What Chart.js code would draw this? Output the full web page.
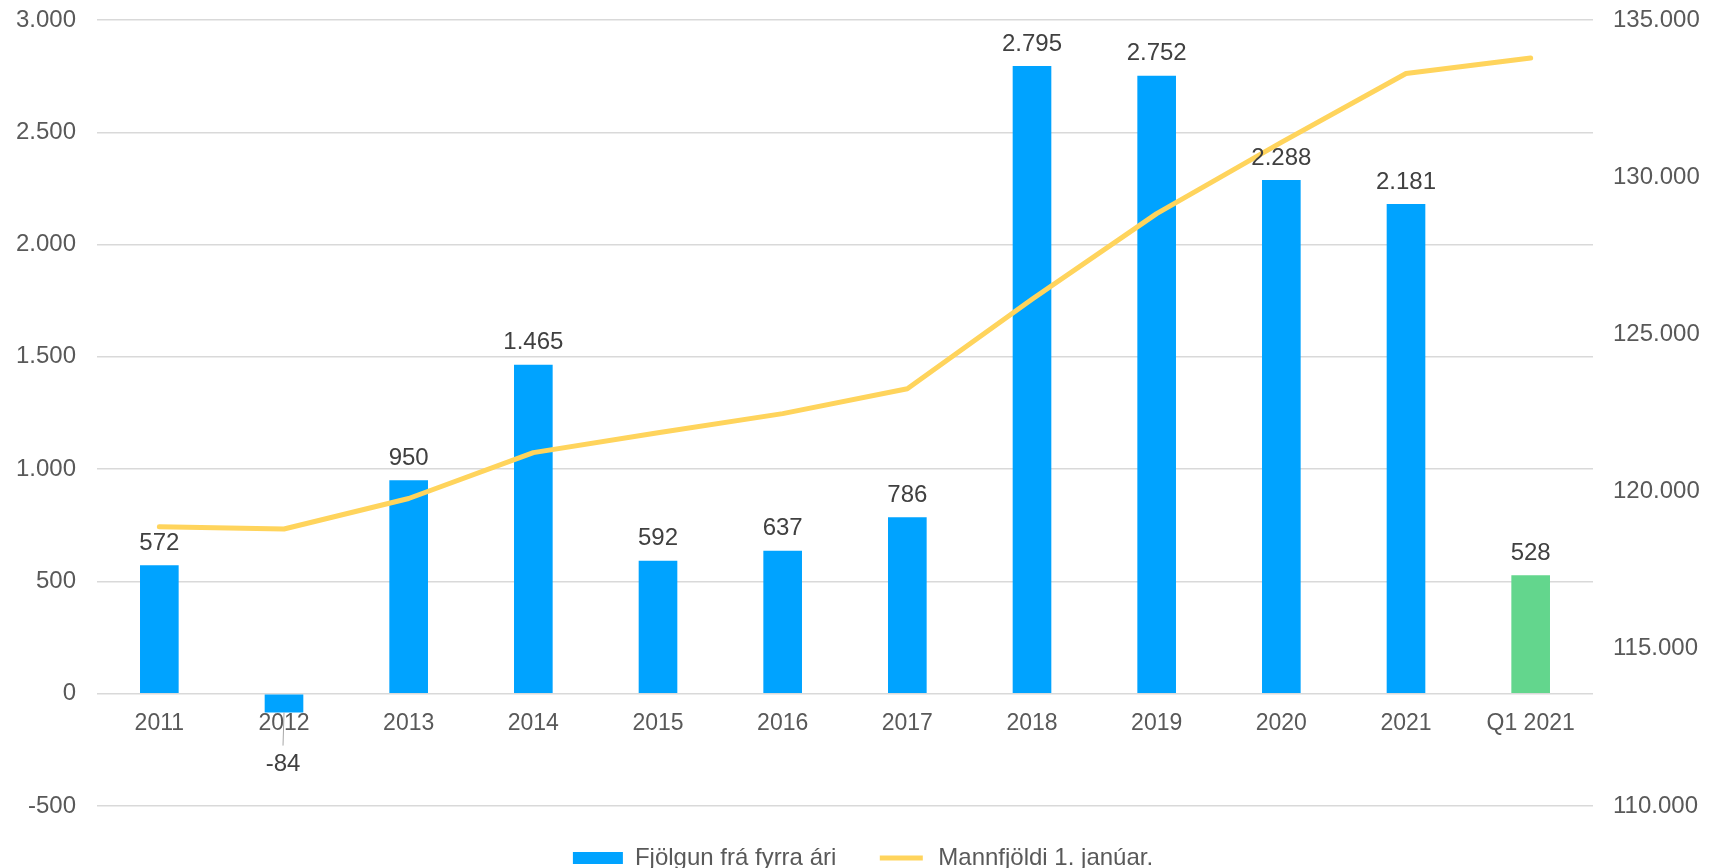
<!DOCTYPE html>
<html>
<head>
<meta charset="utf-8">
<script src="https://cdn.jsdelivr.net/npm/chart.js@4"></script>
<style>
  body { margin: 0; background: #fff; }
</style>
</head>
<body>
<canvas id="myChart" width="1726" height="868"></canvas>
<script>
const categories = ['2011', '2012', '2013', '2014', '2015', '2016', '2017', '2018', '2019', '2020', '2021', 'Q1 2021'];
const growth = [572, -84, 950, 1465, 592, 637, 786, 2795, 2752, 2288, 2181, 528];
const population = [118880, 118810, 119780, 121240, 121870, 122480, 123270, 126120, 128840, 131110, 133300, 133790];
const seriesNames = ['Fjölgun frá fyrra ári', 'Mannfjöldi 1. janúar.'];
const barColors = ['#00a3ff', '#00a3ff', '#00a3ff', '#00a3ff', '#00a3ff', '#00a3ff', '#00a3ff', '#00a3ff', '#00a3ff', '#00a3ff', '#00a3ff', '#63d68d'];

const fontFamily = '"Liberation Sans", Arial, sans-serif';

function fmt(v) {
    const s = String(Math.abs(v)).replace(/\B(?=(\d{3})+(?!\d))/g, '.');
    return v < 0 ? '-' + s : s;
}

// data labels above the bars, the negative one sits lower with a leader line
const valueLabels = {
    id: 'valueLabels',
    afterDatasetsDraw(chart) {
        const ctx = chart.ctx;
        const meta = chart.getDatasetMeta(0);
        ctx.save();
        ctx.font = '24px ' + fontFamily;
        ctx.fillStyle = '#404040';
        ctx.textAlign = 'center';
        meta.data.forEach((bar, i) => {
            const v = growth[i];
            if (v >= 0) {
                ctx.textBaseline = 'bottom';
                ctx.fillText(fmt(v), bar.x, bar.y - 10);
            } else {
                ctx.strokeStyle = '#a6a6a6';
                ctx.lineWidth = 1;
                ctx.beginPath();
                ctx.moveTo(bar.x, bar.y);
                ctx.lineTo(bar.x - 1, bar.y + 33);
                ctx.stroke();
                ctx.textBaseline = 'middle';
                ctx.fillText(fmt(v), bar.x - 1, bar.y + 52);
            }
        });
        ctx.restore();
    }
};

// keep the tick padding from pushing the plot area down
function fixWidth(w) {
    return scale => {
        scale.width = w;
        scale.paddingTop = 0;
        scale.paddingBottom = 0;
    };
}

const config = {
    type: 'bar',
    data: {
        labels: categories,
        datasets: [
            {
                type: 'bar',
                label: seriesNames[0],
                data: growth,
                backgroundColor: barColors,
                yAxisID: 'y',
                order: 2,
                categoryPercentage: 1,
                barPercentage: 0.31
            },
            {
                type: 'line',
                label: seriesNames[1],
                data: population,
                borderColor: '#ffd45c',
                backgroundColor: '#ffd45c',
                borderWidth: 5,
                borderCapStyle: 'round',
                borderJoinStyle: 'round',
                pointRadius: 0,
                tension: 0,
                yAxisID: 'y2',
                order: 1
            }
        ]
    },
    options: {
        responsive: false,
        animation: false,
        layout: {
            padding: { top: 20, bottom: -12, left: 0, right: 0 }
        },
        plugins: {
            tooltip: { enabled: false },
            legend: {
                position: 'bottom',
                labels: {
                    boxWidth: 50,
                    boxHeight: 12,
                    padding: 40,
                    color: '#595959',
                    font: { family: fontFamily, size: 24 },
                    generateLabels: () => [
                        { text: seriesNames[0], fillStyle: '#00a3ff', strokeStyle: '#00a3ff', lineWidth: 0, fontColor: '#595959', datasetIndex: 0 },
                        { text: seriesNames[1], fillStyle: '#ffd45c', strokeStyle: '#ffffff', lineWidth: 7, fontColor: '#595959', datasetIndex: 1 }
                    ]
                }
            }
        },
        scales: {
            x: {
                position: { y: 0 },
                grid: { display: false, drawTicks: false },
                border: { display: false },
                ticks: {
                    color: '#595959',
                    padding: 16,
                    font: { family: fontFamily, size: 23 }
                }
            },
            y: {
                position: 'left',
                min: -500,
                max: 3000,
                afterFit: fixWidth(97),
                grid: { color: '#d9d9d9', lineWidth: 1.5, drawTicks: false },
                border: { display: false },
                ticks: {
                    stepSize: 500,
                    padding: 21,
                    color: '#595959',
                    font: { family: fontFamily, size: 24 },
                    callback: v => fmt(v)
                }
            },
            y2: {
                position: 'right',
                min: 110000,
                max: 135000,
                afterFit: fixWidth(133),
                grid: { display: false, drawTicks: false },
                border: { display: false },
                ticks: {
                    stepSize: 5000,
                    padding: 20,
                    color: '#595959',
                    font: { family: fontFamily, size: 24 },
                    callback: v => fmt(v)
                }
            }
        }
    },
    plugins: [valueLabels]
};

var myChart;

window.addEventListener('load', _ => {
    const ctx = document.getElementById('myChart').getContext('2d');
    myChart = new Chart(ctx, config);
});
</script>
</body>
</html>
